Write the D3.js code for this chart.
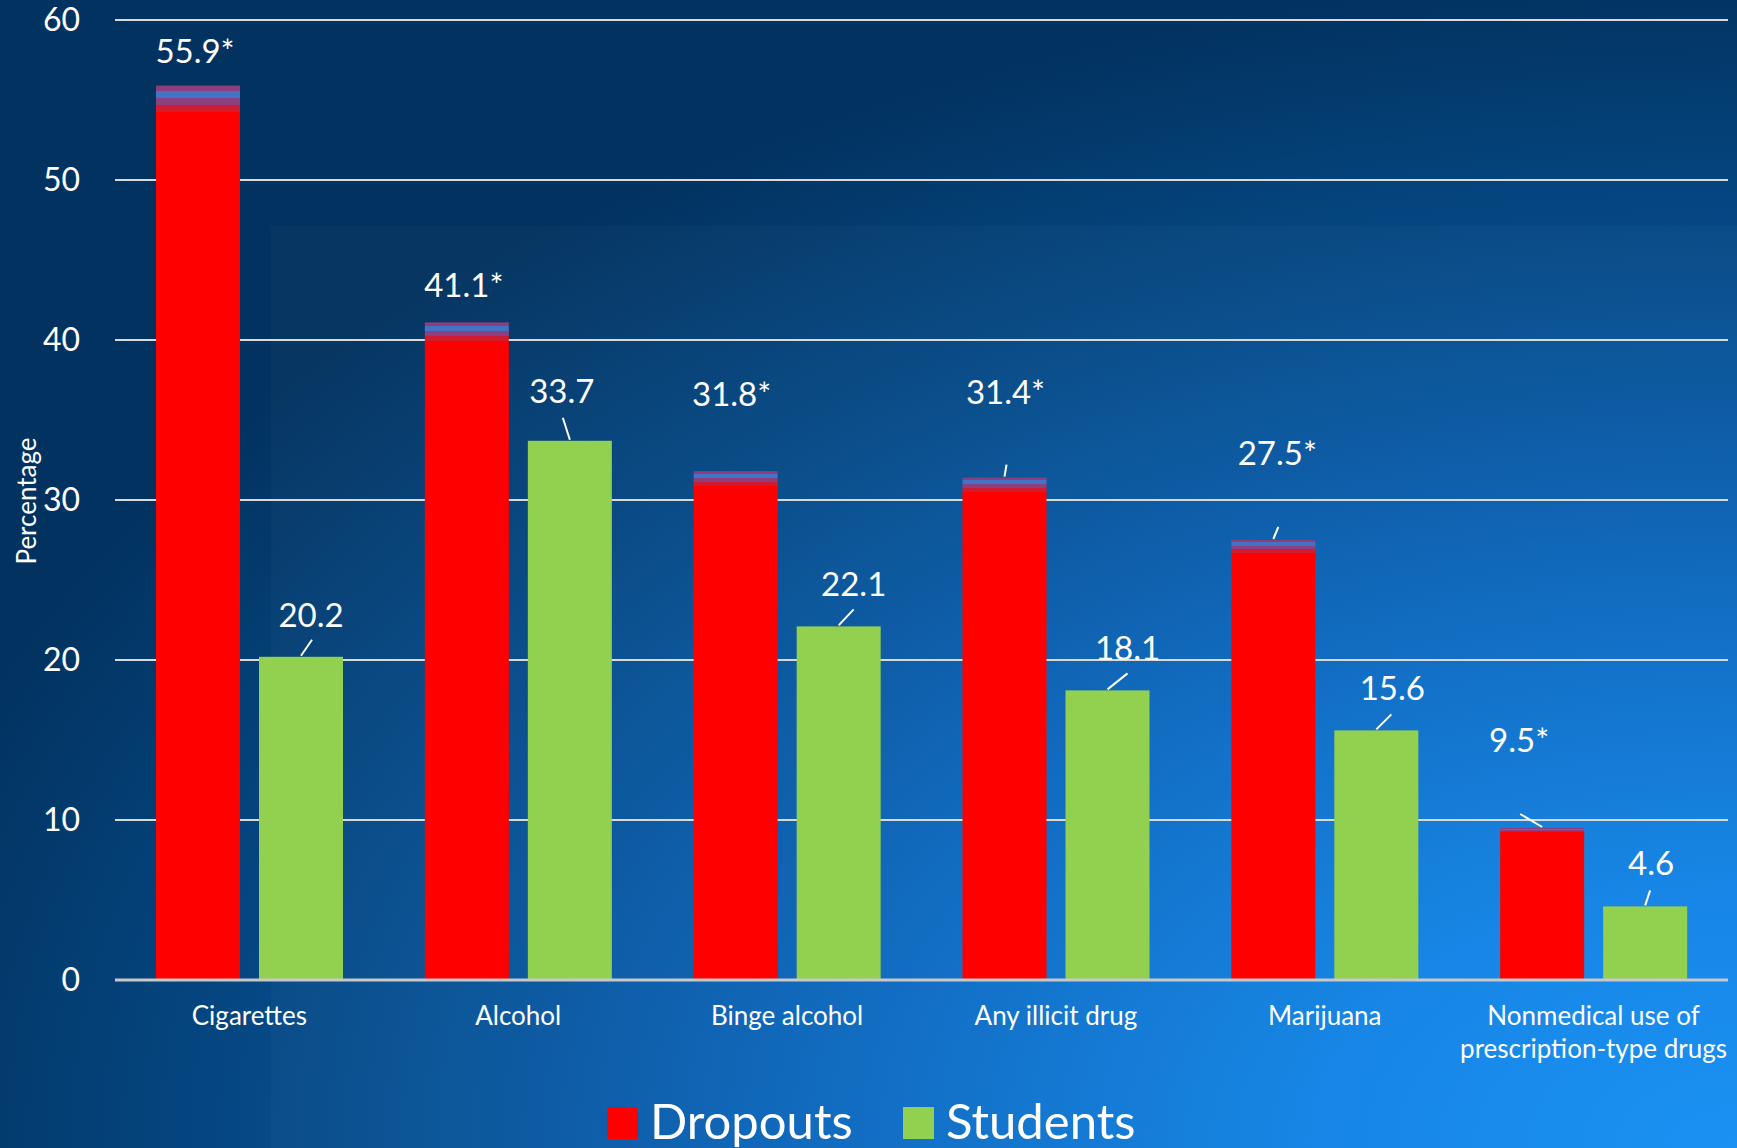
<!DOCTYPE html>
<html>
<head>
<meta charset="utf-8">
<script src="https://cdn.jsdelivr.net/npm/d3@7"></script>
<style>
  html, body { margin: 0; padding: 0; background: #02325f; }
  svg { display: block; }
  text { font-family: Lato, "Noto Sans", sans-serif; fill: #ffffff; }
</style>
</head>
<body>
<svg id="chart" width="1737" height="1148"></svg>
<script>
// Substance use in the past month, dropouts vs. students (%)
const categories = ["Cigarettes", "Alcohol", "Binge alcohol", "Any illicit drug", "Marijuana", "Nonmedical use of\nprescription-type drugs"];
const seriesNames = ["Dropouts", "Students"];
const dropouts = [55.9, 41.1, 31.8, 31.4, 27.5, 9.5];
const students = [20.2, 33.7, 22.1, 18.1, 15.6, 4.6];
const significant = [true, true, true, true, true, true]; // asterisk on dropout values
const yTicks = [0, 10, 20, 30, 40, 50, 60];

// Label placement relative to the top-centre of each bar: [dx, dy]
const labelOffsets = {
  Dropouts: [[-3, -34], [-3, -36], [-4, -76], [1, -85], [4, -86], [-23, -87]],
  Students: [[10, -41], [-8, -49], [15, -41], [20, -41], [16, -41], [6, -42]]
};
// Leader-line start relative to the bar top (null = no leader)
const leaderStarts = {
  Dropouts: [null, null, null, [2, -13], [5, -13], [-22, -14]],
  Students: [[11, -17], [-7, -23], [15, -17], [20, -17], [15, -16], [5, -16]]
};

const colors = { Dropouts: "#ff0000", Students: "#92d050" };

(function drawChart() {
const W = 1737, H = 1148;
const svg = d3.select("#chart");
const defs = svg.append("defs");

// Background: bright blue in the lower right fading to deep navy
const bg = defs.append("radialGradient")
  .attr("id", "bgGrad")
  .attr("gradientUnits", "userSpaceOnUse")
  .attr("cx", W).attr("cy", H).attr("r", 1180)
  .attr("gradientTransform", `translate(${W},${H}) scale(1.62,1) translate(${-W},${-H})`);
[[0, "#1590f3"], [0.22, "#1284e6"], [0.5, "#0c66bb"], [0.75, "#064b8a"], [0.92, "#033a6c"], [1, "#02325f"]]
  .forEach(([o, c]) => bg.append("stop").attr("offset", o).attr("stop-color", c));

svg.append("rect").attr("width", W).attr("height", H).attr("fill", "url(#bgGrad)");
svg.append("rect").attr("x", 271).attr("y", 226).attr("width", W - 271).attr("height", H - 226)
  .attr("fill", "#ffffff").attr("opacity", 0.025);

// Banded top edge on the dropout bars
const rg = defs.append("linearGradient").attr("id", "redTop")
  .attr("x1", 0).attr("y1", 0).attr("x2", 0).attr("y2", 1);
[["#8c3f7c", 0, 0.0056], ["#4472c4", 0.0056, 0.0134], ["#8b4080", 0.0134, 0.0212], ["#d11c30", 0.0212, 0.029], ["#ff0000", 0.029, 1]]
  .forEach(([c, a, b]) => {
    rg.append("stop").attr("offset", a).attr("stop-color", c);
    rg.append("stop").attr("offset", b).attr("stop-color", c);
  });

const plotLeft = 115, plotRight = 1728, plotTop = 20, plotBottom = 980;

const y = d3.scaleLinear().domain([0, 60]).range([plotBottom, plotTop]);
const x0 = d3.scaleBand().domain(categories).range([plotLeft, plotRight]).padding(0);
const x1 = d3.scaleBand().domain(seriesNames).range([41, 228]).paddingInner(19 / 103).paddingOuter(0);

// Gridlines
svg.append("g").selectAll("line").data(yTicks.filter(t => t > 0)).join("line")
  .attr("x1", plotLeft).attr("x2", plotRight)
  .attr("y1", d => y(d)).attr("y2", d => y(d))
  .attr("stroke", "#d9d9d9").attr("stroke-width", 2);

// Y tick labels
const yAxis = svg.append("g").attr("transform", `translate(${plotLeft},0)`)
  .call(d3.axisLeft(y).tickValues(yTicks).tickSize(0).tickPadding(35));
yAxis.select(".domain").remove();
yAxis.selectAll("text").style("font-size", "32px").attr("fill", "#ffffff")
  .style("font-family", "Lato, 'Noto Sans', sans-serif");

// Y axis title
svg.append("text")
  .attr("transform", `translate(36,501) rotate(-90)`)
  .attr("text-anchor", "middle")
  .style("font-size", "26px")
  .text("Percentage");

// Bars
const rows = categories.map((c, i) => ({
  cat: c, i,
  vals: [
    { s: "Dropouts", v: dropouts[i] },
    { s: "Students", v: students[i] }
  ]
}));

const groups = svg.append("g").selectAll("g").data(rows).join("g")
  .attr("transform", d => `translate(${x0(d.cat)},0)`);

groups.selectAll("rect").data(d => d.vals).join("rect")
  .attr("x", d => x1(d.s))
  .attr("width", x1.bandwidth())
  .attr("y", d => y(d.v))
  .attr("height", d => y(0) - y(d.v))
  .attr("fill", d => d.s === "Dropouts" ? "url(#redTop)" : colors.Students);

// Baseline
svg.append("line").attr("x1", plotLeft).attr("x2", plotRight)
  .attr("y1", y(0)).attr("y2", y(0))
  .attr("stroke", "#c8c8c8").attr("stroke-width", 3);

// Value labels and leader lines
groups.each(function (d) {
  const g = d3.select(this);
  d.vals.forEach(v => {
    const cx = x1(v.s) + x1.bandwidth() / 2;
    const ty = y(v.v);
    const off = labelOffsets[v.s][d.i];
    const txt = v.s === "Dropouts" && significant[d.i] ? `${v.v}*` : `${v.v}`;
    g.append("text")
      .attr("x", cx + off[0]).attr("y", ty + off[1] + 11)
      .attr("text-anchor", "middle")
      .style("font-size", "33px")
      .text(txt);
    const ls = leaderStarts[v.s][d.i];
    if (ls) {
      g.append("line")
        .attr("x1", cx + ls[0]).attr("y1", ty + ls[1])
        .attr("x2", cx).attr("y2", ty - 1)
        .attr("stroke", "#ffffff").attr("stroke-width", 2);
    }
  });
});

// Category labels
svg.append("g").selectAll("text").data(categories).join("text")
  .attr("x", d => x0(d) + x0.bandwidth() / 2)
  .attr("y", 1025)
  .attr("text-anchor", "middle")
  .style("font-size", "26px")
  .each(function (d) {
    const lines = d.split("\n");
    d3.select(this).selectAll("tspan").data(lines).join("tspan")
      .attr("x", x0(d) + x0.bandwidth() / 2)
      .attr("dy", (l, k) => k === 0 ? 0 : 33)
      .text(l => l);
  });

// Legend
const legendX = [607, 903];
const legend = svg.append("g").selectAll("g").data(seriesNames).join("g")
  .attr("transform", (d, k) => `translate(${legendX[k]},1107)`);
legend.append("rect").attr("width", 31).attr("height", 32)
  .attr("fill", d => colors[d]);
legend.append("text").attr("x", 43).attr("y", 32)
  .style("font-size", "49px")
  .text(d => d);
})();
</script>
</body>
</html>
